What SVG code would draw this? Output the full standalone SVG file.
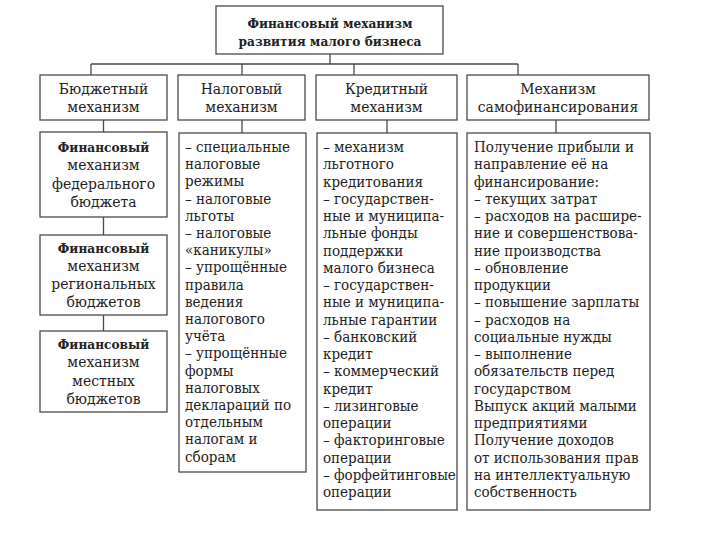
<svg xmlns="http://www.w3.org/2000/svg" width="715" height="537" viewBox="0 0 715 537" font-family="DejaVu Serif, serif">
<style>
.box{fill:#fff;stroke:#4a4a4a;stroke-width:1.3}
.ln{fill:none;stroke:#4a4a4a;stroke-width:1.3}
text{font-family:'DejaVu Serif Condensed','DejaVu Serif',serif;font-size:15.5px;fill:#222}
.t{font-size:15px}
.c{text-anchor:middle}
.b{font-weight:bold;font-size:13.5px}
</style>
<rect width="715" height="537" fill="#fff"/>
<g id="connectors">
<path class="ln" d="M330 54V64M91 64H518M91 64V75M242 64V75M354 64V75M518 64V75"/>
<path class="ln" d="M103.5 120V132M242 120V133M387 120V133M556 120V133"/>
<path class="ln" d="M103.5 217V235M103.5 315V331"/>
</g>
<g id="top">
<rect class="box" x="216" y="6" width="227" height="48"/>
<text class="c b" x="330" y="28">Финансовый механизм</text>
<text class="c b" x="330" y="46">развития малого бизнеса</text>
</g>
<g id="h1">
<rect class="box" x="40" y="75" width="127" height="45"/>
<text class="c" x="103.5" y="94">Бюджетный</text>
<text class="c" x="103.5" y="112">механизм</text>
</g>
<g id="h2">
<rect class="box" x="178" y="75" width="127" height="45"/>
<text class="c" x="241.5" y="94">Налоговый</text>
<text class="c" x="241.5" y="112">механизм</text>
</g>
<g id="h3">
<rect class="box" x="316" y="75" width="141" height="45"/>
<text class="c" x="386.5" y="94">Кредитный</text>
<text class="c" x="386.5" y="112">механизм</text>
</g>
<g id="h4">
<rect class="box" x="467" y="75" width="182" height="45"/>
<text class="c" x="558" y="94">Механизм</text>
<text class="c" x="558" y="112">самофинансирования</text>
</g>
<g id="b1">
<rect class="box" x="40" y="132" width="127" height="85"/>
<text class="c" x="103.5" y="152"><tspan class="b">Финансовый</tspan><tspan x="103.5" dy="18.3">механизм</tspan><tspan x="103.5" dy="18.3">федерального</tspan><tspan x="103.5" dy="18.3">бюджета</tspan></text>
</g>
<g id="b2">
<rect class="box" x="40" y="235" width="127" height="80"/>
<text class="c" x="103.5" y="253"><tspan class="b">Финансовый</tspan><tspan x="103.5" dy="18">механизм</tspan><tspan x="103.5" dy="18">региональных</tspan><tspan x="103.5" dy="18">бюджетов</tspan></text>
</g>
<g id="b3">
<rect class="box" x="40" y="331" width="127" height="81"/>
<text class="c" x="103.5" y="349"><tspan class="b">Финансовый</tspan><tspan x="103.5" dy="18.3">механизм</tspan><tspan x="103.5" dy="18.3">местных</tspan><tspan x="103.5" dy="18.3">бюджетов</tspan></text>
</g>
<g id="tax">
<rect class="box" x="179" y="133" width="127" height="339"/>
<text class="t" x="185" y="152"><tspan>– специальные</tspan><tspan x="185" dy="17.2">налоговые</tspan><tspan x="185" dy="17.2">режимы</tspan><tspan x="185" dy="17.2">– налоговые</tspan><tspan x="185" dy="17.2">льготы</tspan><tspan x="185" dy="17.2">– налоговые</tspan><tspan x="185" dy="17.2">«каникулы»</tspan><tspan x="185" dy="17.2">– упрощённые</tspan><tspan x="185" dy="17.2">правила</tspan><tspan x="185" dy="17.2">ведения</tspan><tspan x="185" dy="17.2">налогового</tspan><tspan x="185" dy="17.2">учёта</tspan><tspan x="185" dy="17.2">– упрощённые</tspan><tspan x="185" dy="17.2">формы</tspan><tspan x="185" dy="17.2">налоговых</tspan><tspan x="185" dy="17.2">деклараций по</tspan><tspan x="185" dy="17.2">отдельным</tspan><tspan x="185" dy="17.2">налогам и</tspan><tspan x="185" dy="17.2">сборам</tspan></text>
</g>
<g id="credit">
<rect class="box" x="317" y="133" width="140" height="377"/>
<text class="t" x="323" y="152"><tspan>– механизм</tspan><tspan x="323" dy="17.25">льготного</tspan><tspan x="323" dy="17.25">кредитования</tspan><tspan x="323" dy="17.25">– государствен-</tspan><tspan x="323" dy="17.25">ные и муниципа-</tspan><tspan x="323" dy="17.25">льные фонды</tspan><tspan x="323" dy="17.25">поддержки</tspan><tspan x="323" dy="17.25">малого бизнеса</tspan><tspan x="323" dy="17.25">– государствен-</tspan><tspan x="323" dy="17.25">ные и муниципа-</tspan><tspan x="323" dy="17.25">льные гарантии</tspan><tspan x="323" dy="17.25">– банковский</tspan><tspan x="323" dy="17.25">кредит</tspan><tspan x="323" dy="17.25">– коммерческий</tspan><tspan x="323" dy="17.25">кредит</tspan><tspan x="323" dy="17.25">– лизинговые</tspan><tspan x="323" dy="17.25">операции</tspan><tspan x="323" dy="17.25">– факторинговые</tspan><tspan x="323" dy="17.25">операции</tspan><tspan x="323" dy="17.25">– форфейтинговые</tspan><tspan x="323" dy="17.25">операции</tspan></text>
</g>
<g id="self">
<rect class="box" x="467" y="133" width="183" height="377"/>
<text class="t" x="474" y="152"><tspan>Получение прибыли и</tspan><tspan x="474" dy="17.25">направление её на</tspan><tspan x="474" dy="17.25">финансирование:</tspan><tspan x="474" dy="17.25">– текущих затрат</tspan><tspan x="474" dy="17.25">– расходов на расшире-</tspan><tspan x="474" dy="17.25">ние и совершенствова-</tspan><tspan x="474" dy="17.25">ние производства</tspan><tspan x="474" dy="17.25">– обновление</tspan><tspan x="474" dy="17.25">продукции</tspan><tspan x="474" dy="17.25">– повышение зарплаты</tspan><tspan x="474" dy="17.25">– расходов на</tspan><tspan x="474" dy="17.25">социальные нужды</tspan><tspan x="474" dy="17.25">– выполнение</tspan><tspan x="474" dy="17.25">обязательств перед</tspan><tspan x="474" dy="17.25">государством</tspan><tspan x="474" dy="17.25">Выпуск акций малыми</tspan><tspan x="474" dy="17.25">предприятиями</tspan><tspan x="474" dy="17.25">Получение доходов</tspan><tspan x="474" dy="17.25">от использования прав</tspan><tspan x="474" dy="17.25">на интеллектуальную</tspan><tspan x="474" dy="17.25">собственность</tspan></text>
</g>
</svg>
